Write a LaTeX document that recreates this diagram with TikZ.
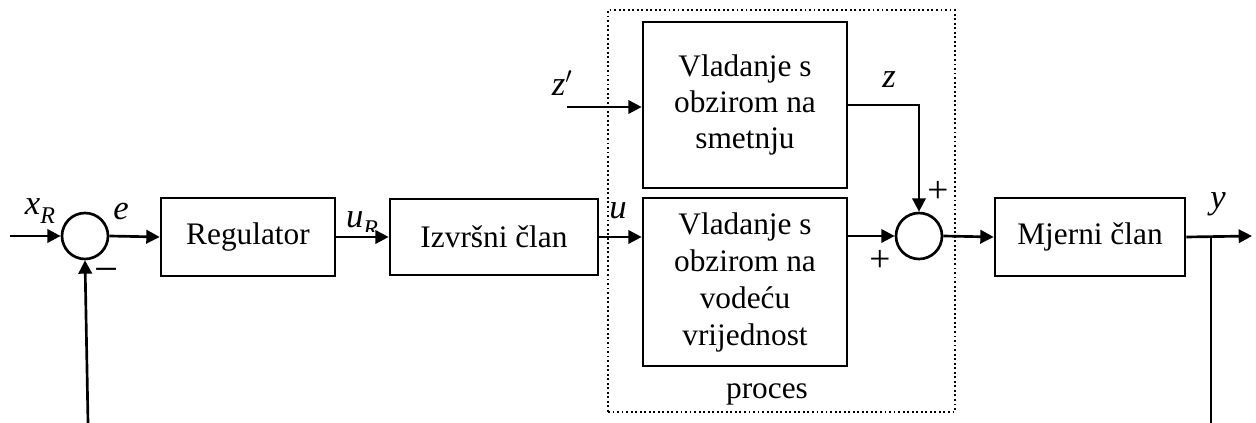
\documentclass[tikz,border=0pt]{standalone}
\usepackage{fontspec}
\setmainfont{Liberation Serif}
\usetikzlibrary{arrows.meta}
\newcommand{\sub}[1]{\raisebox{-0.25em}{\fontsize{18}{20}\selectfont\itshape #1}}
\tikzset{
  blk/.style={draw, line width=2pt, align=center, inner sep=0pt,
    font=\fontsize{23.5}{27}\selectfont},
  sumnode/.style={draw, circle, line width=2pt, minimum size=34.5pt, inner sep=0pt},
  lbl/.style={inner sep=0pt, font=\fontsize{26}{29}\selectfont\itshape},
  sgn/.style={inner sep=0pt, font=\fontsize{28}{30}\selectfont},
  conn/.style={line width=2pt},
  arr/.style={conn, -{Triangle[length=10pt,width=10pt]}},
  procbox/.style={draw, dotted, line width=1.4pt, inner sep=0pt}
}
\begin{document}
\begin{tikzpicture}[x=0.75pt,y=-0.75pt]
\useasboundingbox (0,0) rectangle (1256,423);
% process frame
\node[procbox, minimum width=260.25pt, minimum height=301.5pt] (proc) at (781.5,211) {};
\node[blk, draw=none] (proclbl) at (767,394) {proces};
% blocks
\node[sumnode] (s1) at (85,236) {};
\node[blk, minimum width=130.5pt, minimum height=58.5pt] (reg) at (248,237) {Regulator};
\node[blk, minimum width=156pt, minimum height=57pt] (izv) at (494,237) {Izvršni član};
\node[blk, minimum width=153pt, minimum height=124.5pt] (top) at (745,105) {Vladanje s\\obzirom na\\smetnju};
\node[blk, minimum width=153pt, minimum height=126pt, font=\fontsize{23.5}{27.75}\selectfont] (bot) at (745,282) {Vladanje s\\obzirom na\\vodeću\\vrijednost};
\node[sumnode] (s2) at (919,236) {};
\node[blk, minimum width=142.5pt, minimum height=58.5pt] (mje) at (1090,237) {Mjerni član};
% free ends
\coordinate (in) at (10,236);
\coordinate (zin) at (567,107);
\coordinate (out) at (1252,236);
\coordinate (br) at (1211,236);
\coordinate (brend) at (1211,423);
\coordinate (fbend) at (88,423);
% connectors
\draw[arr] (in) -- (s1.west);
\draw[arr] (s1.east) -- (reg.west);
\draw[arr] (reg.east) -- (izv.west);
\draw[arr] (izv.east) -- (izv.east -| bot.west);
\draw[arr] (zin) -- (zin -| top.west);
\draw[arr] (top.east) -| (s2.north);
\draw[arr] (s2.west -| bot.east) -- (s2.west);
\draw[arr] (s2.east) -- (mje.west);
\draw[arr] (mje.east) -- (out);
\draw[conn] (br) -- (brend);
\draw[arr] (fbend) -- (s1.south);
% labels
\node[lbl] (lxr) at (40,211) {x\sub{R}};
\node[lbl] (le) at (121,212) {e};
\begin{scope}
\clip (335,200) rectangle (388,232);
\node[lbl] (lur) at (362,224) {u\sub{R}};
\end{scope}
\node[lbl] (lu) at (618,211) {u};
\node[lbl] (lzp) at (562,83) {z$'$};
\node[lbl] (lz) at (889,80) {z};
\node[lbl] (ly) at (1218,204) {y};
\node[sgn] (p1) at (938,192) {+};
\node[sgn] (p2) at (880,261) {+};
\node[sgn, font=\fontsize{32}{34}\selectfont] (m1) at (107,276) {\char"2212};
\end{tikzpicture}
\end{document}
